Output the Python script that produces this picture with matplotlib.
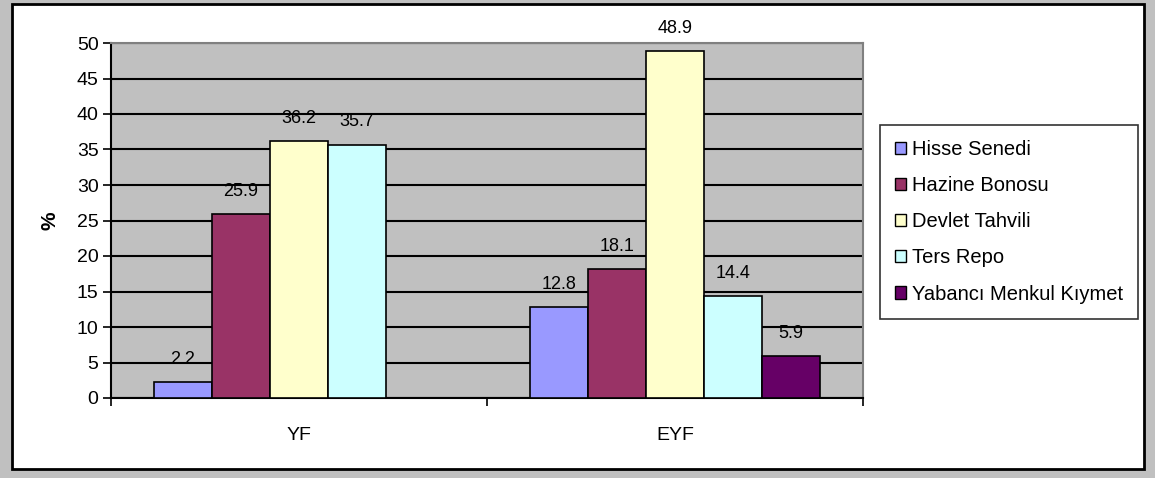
import numpy as np
import matplotlib
matplotlib.use('agg')
import matplotlib.pyplot as plt
from matplotlib.patches import Rectangle, Patch

plt.rcParams['font.family'] = ['Liberation Sans', 'DejaVu Sans']

categories = ['YF', 'EYF']
series = ['Hisse Senedi', 'Hazine Bonosu', 'Devlet Tahvili', 'Ters Repo', 'Yabancı Menkul Kıymet']
values = {
  'Hisse Senedi': [2.2, 12.8],
  'Hazine Bonosu': [25.9, 18.1],
  'Devlet Tahvili': [36.2, 48.9],
  'Ters Repo': [35.7, 14.4],
  'Yabancı Menkul Kıymet': [np.nan, 5.9],
}
colors = ['#9999FF', '#993366', '#FFFFCC', '#CCFFFF', '#660066']

W, H = 1155, 478
fig = plt.figure(figsize=(W/100, H/100), dpi=100, facecolor='#C0C0C0')
fig.patches.append(Rectangle((12/W, 1-469/H), (1144-12)/W, (469-4)/H, transform=fig.transFigure,
                             facecolor='white', edgecolor='black', linewidth=2, zorder=-1))

ax = fig.add_axes([111/W, 1-398/H, (863-111)/W, (398-43)/H])
ax.set_facecolor('#C0C0C0')

n = len(series)
bw = 1.0 / (n + n * 0.296)
x = np.arange(len(categories)) + 0.5
for i, name in enumerate(series):
  pos = x + (i - (n - 1) / 2) * bw
  vals = np.array(values[name], dtype=float)
  ok = ~np.isnan(vals)
  ax.bar(pos[ok], vals[ok], width=bw, color=colors[i], edgecolor='black', linewidth=1.2, zorder=3)
  for p, v in zip(pos[ok], vals[ok]):
    ax.text(p, v + 2.0, f'{v:.1f}', ha='center', va='bottom', fontsize=13, zorder=4)

ax.set_xlim(0, len(categories))
ax.set_ylim(0, 50)
ax.set_yticks(np.arange(0, 51, 5))
ax.yaxis.grid(True, color='black', linewidth=1.5, zorder=1)
ax.set_axisbelow(True)
ax.set_xticks(x)
ax.set_xticklabels(categories, fontsize=14)
ax.set_xticks(np.arange(len(categories) + 1), minor=True)
ax.tick_params(axis='x', which='major', length=0, pad=21)
ax.tick_params(axis='x', which='minor', length=6, width=1.2, direction='out')
ax.tick_params(axis='y', length=6, width=1.2, labelsize=14, pad=3)
ax.set_ylabel('%', fontsize=15, fontweight='bold', labelpad=12)

for s in ['left', 'bottom']:
  ax.spines[s].set_color('black')
  ax.spines[s].set_linewidth(1.5)
for s in ['top', 'right']:
  ax.spines[s].set_color('#808080')
  ax.spines[s].set_linewidth(1.5)

handles = [Patch(facecolor=c, edgecolor='black', linewidth=1) for c in colors]
leg = fig.legend(handles, series, loc='upper left', bbox_to_anchor=(880/W, 1-125/H),
                 fontsize=14.5, frameon=True, fancybox=False, edgecolor='black',
                 handlelength=0.55, handleheight=0.55, handletextpad=0.3, labelspacing=0.85,
                 borderpad=0.75, borderaxespad=0)
leg.get_frame().set_linewidth(1.2)

fig.savefig('out.png', dpi=100, facecolor=fig.get_facecolor())
